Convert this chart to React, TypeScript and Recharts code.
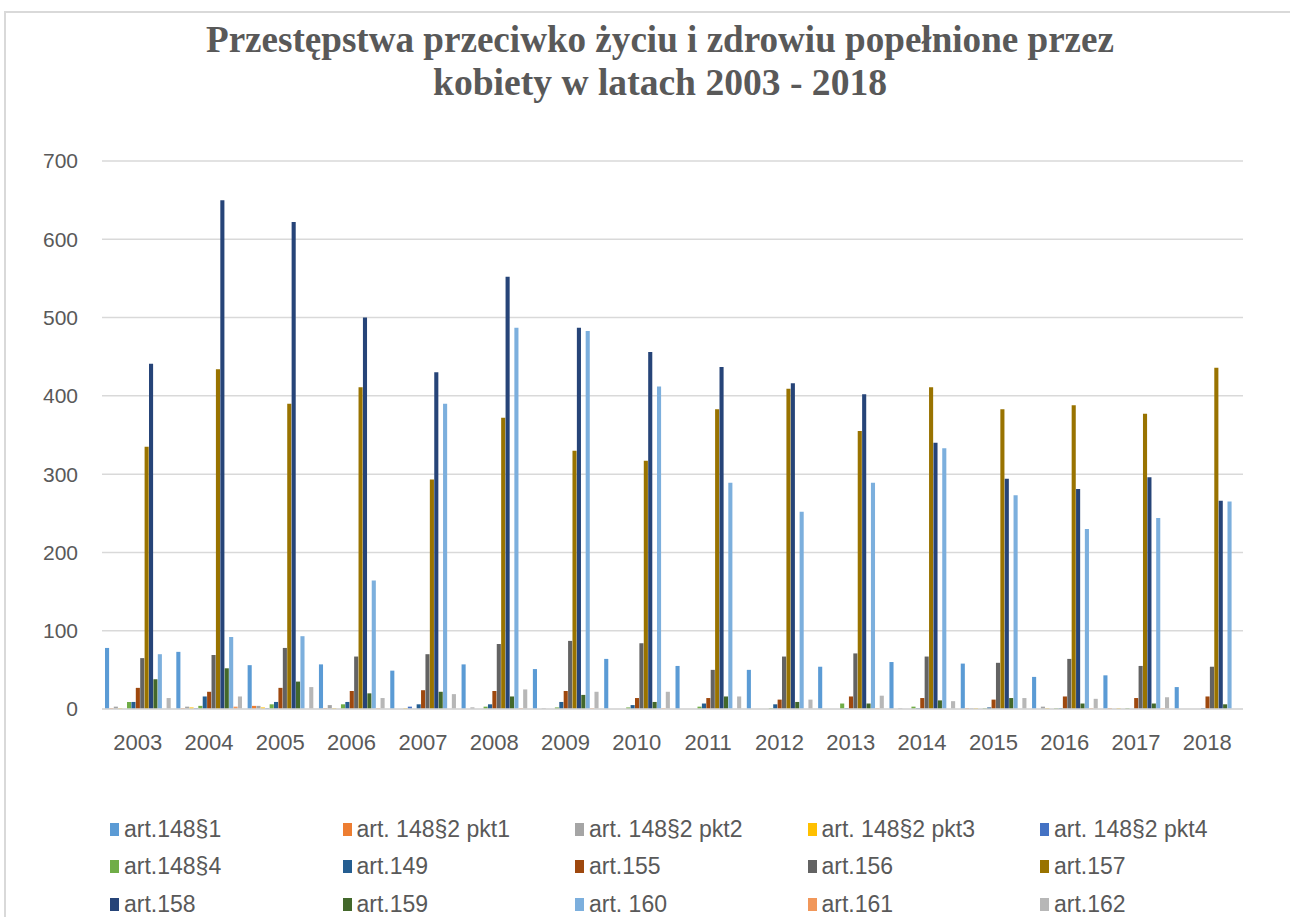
import React from "react";
import { Bar, BarChart, CartesianGrid, XAxis, YAxis } from "recharts";

// lata
const years = [
  "2003", "2004", "2005", "2006", "2007", "2008", "2009", "2010",
  "2011", "2012", "2013", "2014", "2015", "2016", "2017", "2018",
];

const yTicks = [0, 100, 200, 300, 400, 500, 600, 700];

// wartości
const art148p1 = [78, 73, 56, 57, 49, 57, 51, 64, 55, 50, 54, 60, 58, 41, 43, 28];
const art148p2pkt1 = [1, 1, 4, 1, 0, 0, 0, 0, 0, 0, 0, 0, 1, 0, 1, 0];
const art148p2pkt2 = [3, 3, 4, 5, 0, 2, 1, 0, 0, 0, 0, 1, 1, 3, 0, 0];
const art148p2pkt3 = [1, 2, 2, 1, 1, 0, 0, 0, 0, 0, 0, 0, 1, 1, 1, 0];
const art148p2pkt4 = [0, 1, 1, 0, 3, 0, 0, 0, 0, 0, 0, 0, 0, 0, 0, 0];
const art148p4 = [9, 4, 6, 6, 0, 3, 2, 2, 3, 1, 7, 3, 1, 1, 1, 0];
const art149 = [9, 16, 9, 9, 6, 6, 9, 5, 7, 6, 1, 1, 2, 1, 0, 1];
const art155 = [27, 22, 27, 23, 24, 23, 23, 14, 14, 12, 16, 14, 12, 16, 14, 16];
const art156 = [65, 69, 78, 67, 70, 83, 87, 84, 50, 67, 71, 67, 59, 64, 55, 54];
const art157 = [335, 434, 390, 411, 293, 372, 330, 317, 383, 409, 355, 411, 383, 388, 377, 436];
const art158 = [441, 650, 622, 500, 430, 552, 487, 456, 437, 416, 402, 340, 294, 281, 296, 266];
const art159 = [38, 52, 35, 20, 22, 16, 18, 9, 16, 9, 7, 11, 14, 7, 7, 6];
const art160 = [70, 92, 93, 164, 390, 487, 483, 412, 289, 252, 289, 333, 273, 230, 244, 265];
const art161 = [0, 3, 0, 1, 0, 1, 1, 1, 0, 0, 1, 0, 0, 1, 1, 0];
const art162 = [14, 16, 28, 14, 19, 25, 22, 22, 16, 12, 17, 10, 14, 13, 15, 0];

const series = [
  { key: "s1", name: "art.148§1", color: "#5B9BD5", values: art148p1 },
  { key: "s2", name: "art. 148§2 pkt1", color: "#ED7D31", values: art148p2pkt1 },
  { key: "s3", name: "art. 148§2 pkt2", color: "#A5A5A5", values: art148p2pkt2 },
  { key: "s4", name: "art. 148§2 pkt3", color: "#FFC000", values: art148p2pkt3 },
  { key: "s5", name: "art. 148§2 pkt4", color: "#4472C4", values: art148p2pkt4 },
  { key: "s6", name: "art.148§4", color: "#70AD47", values: art148p4 },
  { key: "s7", name: "art.149", color: "#255E91", values: art149 },
  { key: "s8", name: "art.155", color: "#9E480E", values: art155 },
  { key: "s9", name: "art.156", color: "#636363", values: art156 },
  { key: "s10", name: "art.157", color: "#997300", values: art157 },
  { key: "s11", name: "art.158", color: "#264478", values: art158 },
  { key: "s12", name: "art.159", color: "#43682B", values: art159 },
  { key: "s13", name: "art. 160", color: "#7CAFDD", values: art160 },
  { key: "s14", name: "art.161", color: "#F1975A", values: art161 },
  { key: "s15", name: "art.162", color: "#B7B7B7", values: art162 },
];

const chartData = years.map((year, i) => {
  const row: Record<string, string | number> = { year };
  series.forEach((s) => {
    row[s.key] = s.values[i];
  });
  return row;
});

const textColor = "#595959";
const sansFont = "'Liberation Sans', Arial, sans-serif";

export default function App(): React.JSX.Element {
  return (
    <div
      style={{
        position: "absolute",
        left: 0,
        top: 0,
        width: 1290,
        height: 917,
        background: "#fff",
        overflow: "hidden",
      }}
    >
      <div
        style={{
          position: "absolute",
          left: 4,
          top: 11,
          width: 1300,
          height: 940,
          border: "2px solid #D9D9D9",
          boxSizing: "border-box",
        }}
      />
      <svg
        width={1290}
        height={120}
        style={{ position: "absolute", left: 0, top: 0 }}
      >
        <text
          x={660}
          y={52}
          textAnchor="middle"
          fontFamily="'Liberation Serif', 'Times New Roman', serif"
          fontWeight="bold"
          fontSize={37}
          fill={textColor}
          textLength={908}
          lengthAdjust="spacingAndGlyphs"
        >
          Przestępstwa przeciwko życiu i zdrowiu popełnione przez
        </text>
        <text
          x={660}
          y={95}
          textAnchor="middle"
          fontFamily="'Liberation Serif', 'Times New Roman', serif"
          fontWeight="bold"
          fontSize={37}
          fill={textColor}
          textLength={454}
          lengthAdjust="spacingAndGlyphs"
        >
          kobiety w latach 2003 - 2018
        </text>
      </svg>
      <div style={{ position: "absolute", left: 0, top: 0 }}>
        <BarChart
          width={1290}
          height={917}
          data={chartData}
          margin={{ top: 161, right: 47, bottom: 178, left: 42 }}
          barGap={0.3}
          barCategoryGap={3}
        >
          <CartesianGrid vertical={false} stroke="#D9D9D9" strokeWidth={1.5} />
          <XAxis
            dataKey="year"
            height={30}
            axisLine={{ stroke: "#D9D9D9", strokeWidth: 1.5 }}
            tickLine={false}
            tickMargin={19}
            tick={{ fill: textColor, fontSize: 22, fontFamily: sansFont }}
            interval={0}
          />
          <YAxis
            width={60}
            domain={[0, 700]}
            ticks={yTicks}
            axisLine={false}
            tickLine={false}
            tickMargin={18}
            tick={{ fill: textColor, fontSize: 21, fontFamily: sansFont }}
          />
          {series.map((s) => (
            <Bar
              key={s.key}
              dataKey={s.key}
              name={s.name}
              fill={s.color}
              barSize={4.1}
              isAnimationActive={false}
            />
          ))}
        </BarChart>
      </div>
      {series.map((s, i) => {
        const col = i % 5;
        const row = Math.floor(i / 5);
        return (
          <div
            key={s.key}
            style={{
              position: "absolute",
              left: 110 + col * 232.5,
              top: 829 + row * 37.5 - 13,
              height: 26,
              display: "flex",
              alignItems: "center",
              fontFamily: sansFont,
              fontSize: 23,
              color: textColor,
              whiteSpace: "nowrap",
            }}
          >
            <span
              style={{
                display: "inline-block",
                width: 9,
                height: 13,
                background: s.color,
                marginRight: 5,
              }}
            />
            {s.name}
          </div>
        );
      })}
    </div>
  );
}
